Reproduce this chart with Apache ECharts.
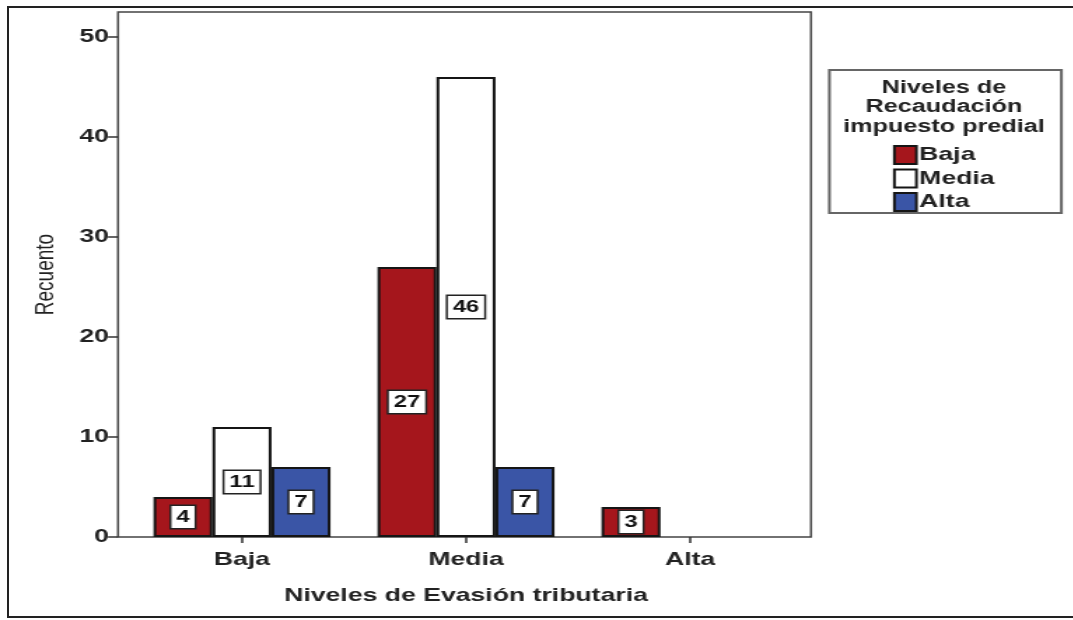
<!DOCTYPE html>
<html>
<head>
<meta charset="utf-8">
<script src="https://cdn.jsdelivr.net/npm/echarts@6/dist/echarts.min.js"></script>
<style>
  html, body { margin: 0; padding: 0; background: #fff; overflow: hidden; }
  #frame { position: absolute; left: 7px; top: 6px; width: 1080px; height: 612px; border: 2px solid #222; box-sizing: border-box; }
  #chart { position: absolute; left: 0; top: 0; width: 766px; height: 620px; transform: scaleX(1.4); transform-origin: 0 0; }
</style>
</head>
<body>
<div id="frame"></div>
<div id="chart"></div>
<script>
const categories = ['Baja', 'Media', 'Alta'];
const seriesNames = ['Baja', 'Media', 'Alta'];
const valuesBaja = [4, 27, 3];
const valuesMedia = [11, 46, 0];
const valuesAlta = [7, 7, 0];
const yTicks = [0, 10, 20, 30, 40, 50];
const colors = ['#a5161c', '#ffffff', '#3a55a6'];

const S = 1.4; // horizontal stretch of the reference picture
const chart = echarts.init(document.getElementById('chart'));
const fontFam = "'Liberation Sans', Arial, sans-serif";

function mkSeries(name, vals, color) {
  return {
    name: name,
    type: 'bar',
    xAxisIndex: 1,
    yAxisIndex: 1,
    barWidth: 59 / S,
    barGap: '0%',
    itemStyle: { color: color, borderColor: '#151515', borderWidth: 2 },
    label: {
      show: true,
      position: 'inside',
      backgroundColor: '#fff',
      borderColor: '#222',
      borderWidth: 1.5,
      padding: [3, 3.5, 2, 3.5],
      fontFamily: fontFam,
      fontWeight: 'bold',
      fontSize: 17,
      color: '#111'
    },
    data: vals.map(v => v > 0 ? v : { value: v, label: { show: false }, itemStyle: { borderWidth: 0 } })
  };
}

chart.setOption({
  animation: false,
  backgroundColor: 'transparent',
  grid: [
    { left: 118 / S, top: 12, width: 693 / S, bottom: 83, show: true, borderColor: '#444', borderWidth: 1.5, backgroundColor: '#fff' },
    { left: 130 / S, top: 37, width: 672 / S, bottom: 83 }
  ],
  xAxis: [
    { gridIndex: 0, type: 'value', show: false, min: 0, max: 1 },
    {
      gridIndex: 1, type: 'category', data: categories,
      axisLine: { show: false },
      axisTick: { show: true, alignWithLabel: true, length: 6, lineStyle: { color: '#333', width: 1.5 } },
      axisLabel: { fontFamily: fontFam, fontWeight: 'bold', fontSize: 19, color: '#222', margin: 13 },
      name: 'Niveles de Evasión tributaria',
      nameLocation: 'middle',
      nameGap: 49,
      nameTextStyle: { fontFamily: fontFam, fontWeight: 'bold', fontSize: 19, color: '#222' }
    }
  ],
  yAxis: [
    {
      gridIndex: 0, type: 'value', min: 0, max: 1,
      axisLine: { show: false }, axisTick: { show: false }, axisLabel: { show: false }, splitLine: { show: false },
      name: 'Recuento',
      nameLocation: 'middle',
      nameGap: 42,
      nameTextStyle: { fontFamily: fontFam, fontSize: 19, color: '#222' }
    },
    {
      gridIndex: 1, type: 'value', min: 0, max: 50, interval: 10,
      offset: 12 / S,
      axisLine: { show: false },
      axisTick: { show: true, length: 10 / S, lineStyle: { color: '#333', width: 1.5 } },
      splitLine: { show: false },
      axisLabel: {
        fontFamily: fontFam, fontWeight: 'bold', fontSize: 19, color: '#222', margin: 9 / S,
        formatter: v => yTicks.includes(v) ? String(v) : ''
      }
    }
  ],
  graphic: [
    {
      type: 'rect', left: 828 / S, top: 69, z: 0,
      shape: { width: 232 / S, height: 143 },
      style: { fill: '#fff', stroke: '#666', lineWidth: 2 }
    },
    {
      type: 'text', z: 1, x: 944 / S, y: 78,
      style: {
        text: 'Niveles de\nRecaudación\nimpuesto predial',
        fontFamily: fontFam, fontWeight: 'bold', fontSize: 18, lineHeight: 19.5,
        fill: '#222', align: 'center', verticalAlign: 'top'
      }
    }
  ],
  legend: {
    orient: 'vertical',
    left: 893 / S, top: 145,
    padding: 0,
    itemWidth: 22 / S, itemHeight: 18, itemGap: 3.5,
    icon: 'rect',
    textStyle: { fontFamily: fontFam, fontWeight: 'bold', fontSize: 19, lineHeight: 19, color: '#222', padding: [0, 0, 0, -3] },
    data: seriesNames
  },
  series: [
    mkSeries(seriesNames[0], valuesBaja, colors[0]),
    mkSeries(seriesNames[1], valuesMedia, colors[1]),
    mkSeries(seriesNames[2], valuesAlta, colors[2])
  ]
});
</script>
</body>
</html>
